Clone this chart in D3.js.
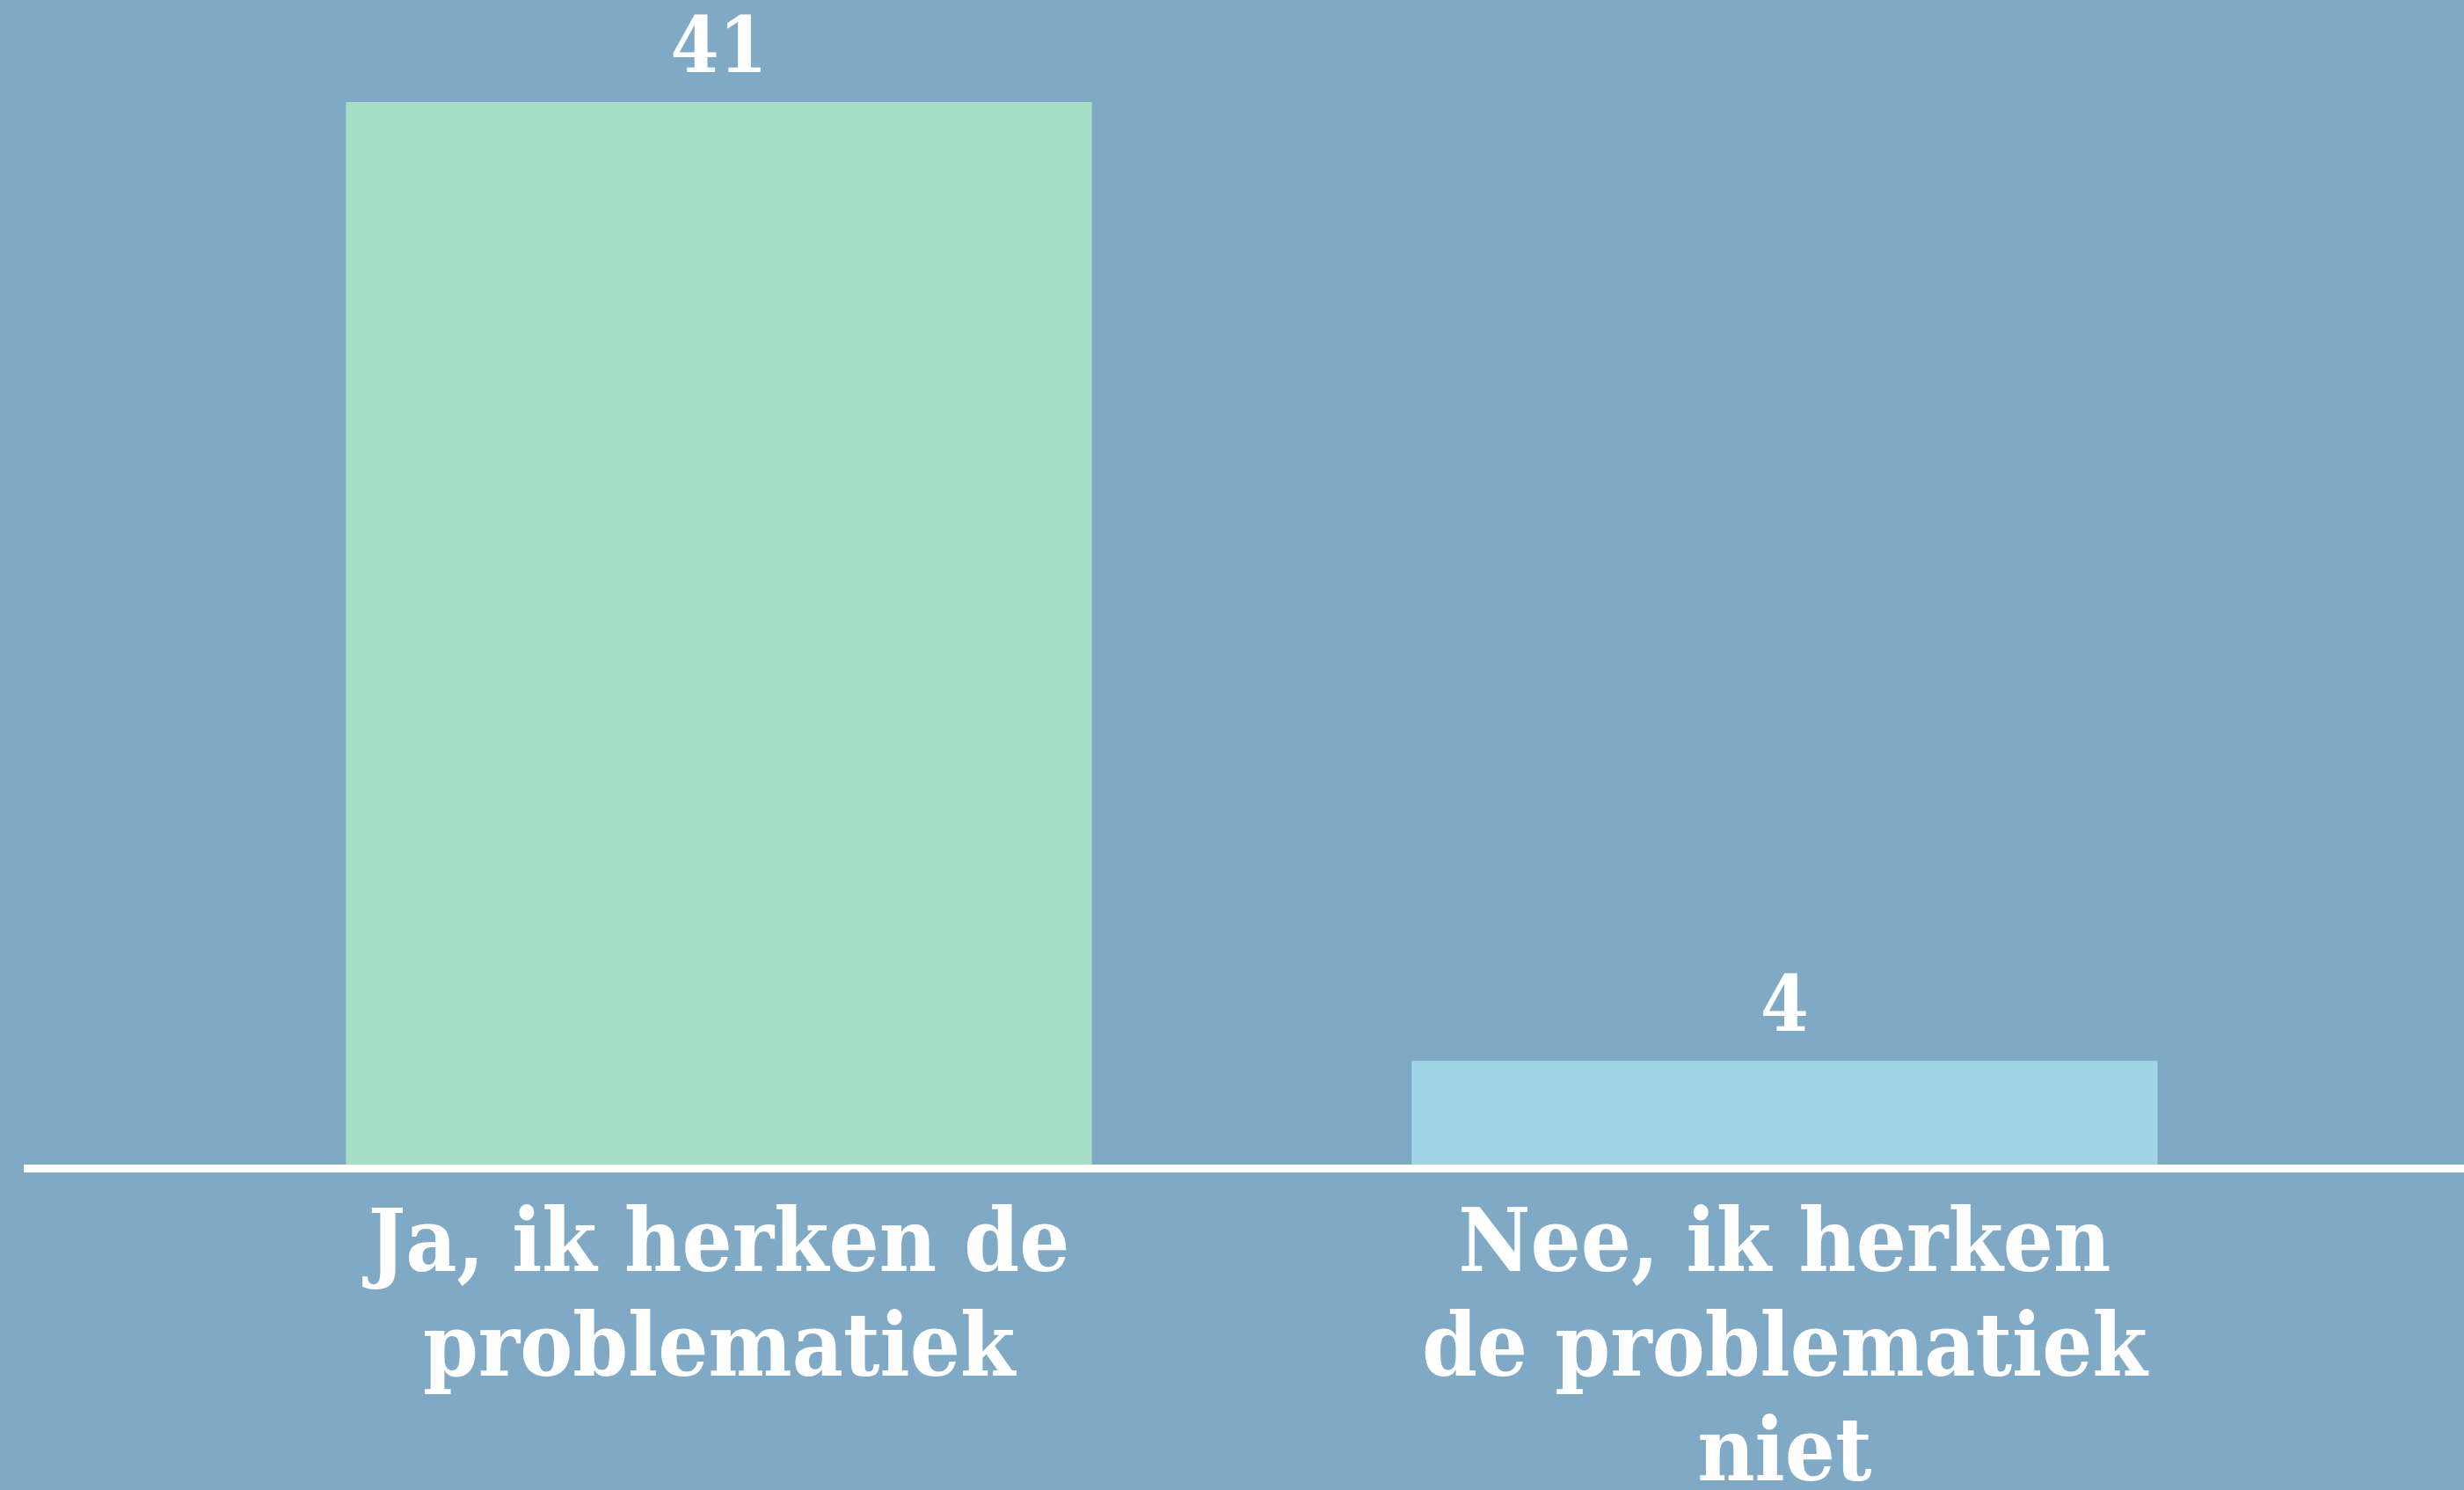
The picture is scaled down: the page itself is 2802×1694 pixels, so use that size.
<!DOCTYPE html>
<html>
<head>
<meta charset="utf-8">
<script src="https://cdn.jsdelivr.net/npm/d3@7"></script>
<style>
  html, body { margin: 0; padding: 0; background: #80a9c6; overflow: hidden; }
  svg { display: block; }
</style>
</head>
<body>
<div id="chart"></div>
<script>
var width = 2802,
    height = 1694;

// data
var categories = ["Ja, ik herken de problematiek", "Nee, ik herken de problematiek niet"];
var labelLines = [["Ja, ik herken de", "problematiek"], ["Nee, ik herken", "de problematiek", "niet"]];
var values = [41, 4];
var barColors = ["#a6dfc6", "#a0d4e6"];

var svg = d3.select("#chart").append("svg")
  .attr("width", width)
  .attr("height", height);

svg.append("rect")
  .attr("width", width)
  .attr("height", height)
  .style("fill", "#80a9c6");

var x = d3.scaleBand()
  .domain(categories)
  .range([36, 2811])
  .paddingInner(0.3)
  .paddingOuter(0.295);

var y = d3.scaleLinear()
  .domain([0, 41])
  .range([1324, 116]);

var font = "'DejaVu Serif Condensed', 'DejaVu Serif', serif";

var data = categories.map(function(c, i) {
  return { cat: c, value: values[i], lines: labelLines[i], color: barColors[i] };
});

// bars
svg.selectAll("rect.bar")
  .data(data)
  .enter()
  .append("rect")
  .attr("class", "bar")
  .attr("x", function(d) { return x(d.cat); })
  .attr("y", function(d) { return y(d.value); })
  .attr("width", x.bandwidth())
  .attr("height", function(d) { return y(0) - y(d.value); })
  .style("fill", function(d) { return d.color; });

// value labels
svg.selectAll("text.value")
  .data(data)
  .enter()
  .append("text")
  .attr("class", "value")
  .attr("x", function(d) { return x(d.cat) + x.bandwidth() / 2; })
  .attr("y", function(d) { return y(d.value) - 34; })
  .attr("text-anchor", "middle")
  .style("font-family", font)
  .style("font-weight", "bold")
  .style("font-size", "88px")
  .style("fill", "#ffffff")
  .text(function(d) { return d.value; });

// baseline
svg.append("line")
  .attr("x1", 27)
  .attr("x2", width)
  .attr("y1", y(0) + 4.5)
  .attr("y2", y(0) + 4.5)
  .style("stroke", "#ffffff")
  .style("stroke-width", 9);

// category labels
var labels = svg.selectAll("text.cat")
  .data(data)
  .enter()
  .append("text")
  .attr("class", "cat")
  .attr("text-anchor", "middle")
  .style("font-family", font)
  .style("font-weight", "bold")
  .style("font-size", "100px")
  .style("fill", "#ffffff");

labels.selectAll("tspan")
  .data(function(d) {
    return d.lines.map(function(l) { return { text: l, cx: x(d.cat) + x.bandwidth() / 2 }; });
  })
  .enter()
  .append("tspan")
  .attr("x", function(d) { return d.cx; })
  .attr("y", function(d, i) { return 1445 + i * 119; })
  .text(function(d) { return d.text; });
</script>
</body>
</html>
